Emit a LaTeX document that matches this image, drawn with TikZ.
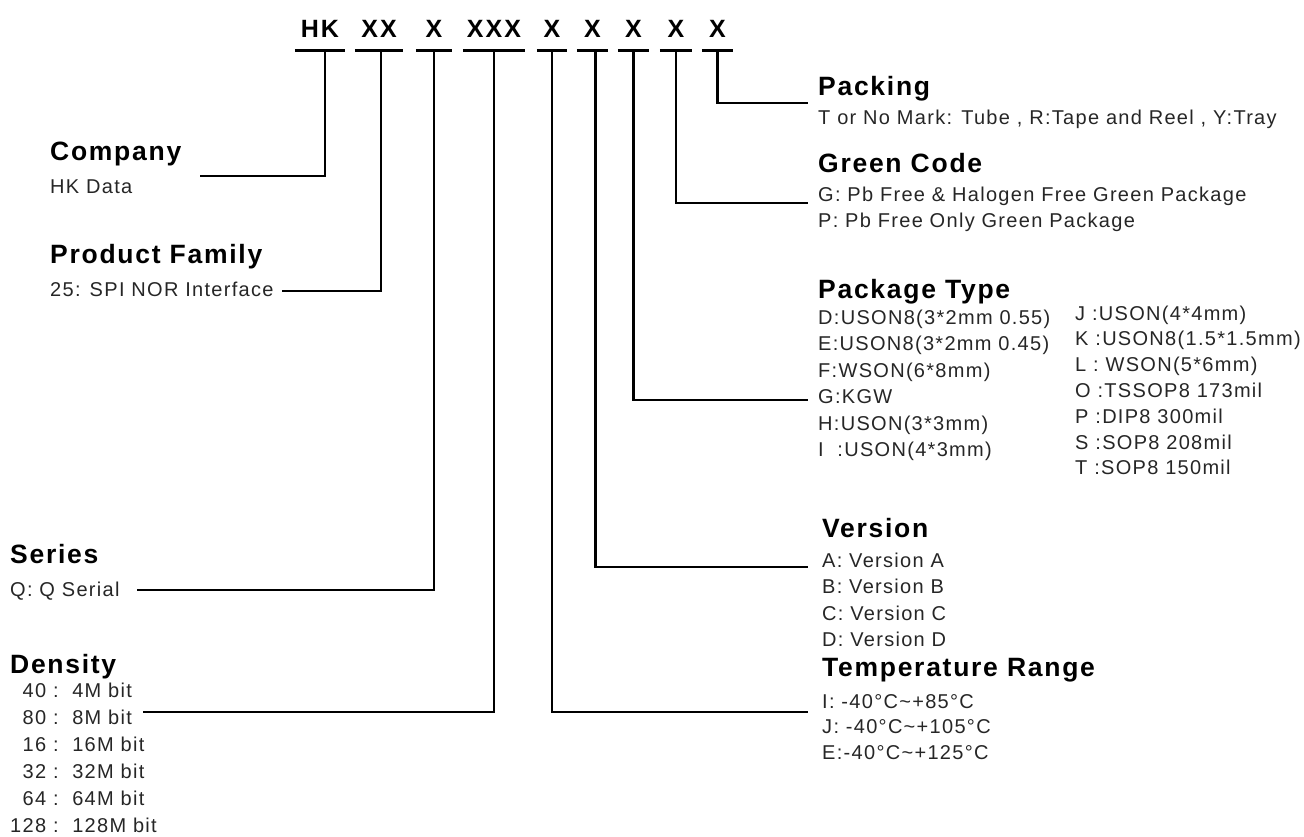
\documentclass[tikz,border=0pt]{standalone}
\usepackage{fontspec}
\setmainfont{Liberation Sans}
\newfontfamily\spfont[LetterSpace=6.5]{Liberation Sans}
\newfontfamily\codefont[LetterSpace=8]{Liberation Sans}
\begin{document}
\begin{tikzpicture}[x=1pt,y=-1pt,
  head/.style={anchor=base west, inner sep=0pt, text=black, font=\spfont\bfseries\fontsize{26.5}{30}\selectfont},
  body/.style={anchor=base west, inner sep=0pt, text=black!85, font=\spfont\fontsize{20}{26.5}\selectfont},
  code/.style={anchor=south, inner sep=0pt, text depth=12pt, font=\codefont\bfseries\fontsize{25}{28}\selectfont},
  uline/.style={line width=3pt},
  conn/.style={line width=2.8pt},
]
\useasboundingbox (0,0) rectangle (1304,836);
% code characters
\node[code, minimum width=50pt] (hk)  at (320,50)   {HK};
\node[code, minimum width=48pt] (fam) at (379,50)   {XX};
\node[code, minimum width=36pt] (ser) at (434,50)   {X};
\node[code, minimum width=62pt] (den) at (494,50)   {XXX};
\node[code, minimum width=30pt] (tmp) at (552,50)   {X};
\node[code, minimum width=31pt] (ver) at (592.5,50) {X};
\node[code, minimum width=31pt] (pkg) at (633.5,50) {X};
\node[code, minimum width=32pt] (grn) at (676,50)   {X};
\node[code, minimum width=31pt] (pck) at (717.5,50) {X};
\foreach \n in {hk,fam,ser,den,tmp,ver,pkg,grn,pck}
  \draw[uline] (\n.south west) -- (\n.south east);

% right side
\node[head] (packingH) at (818,95) {Packing};
\node[body] (packingB) at (818,124) {T or No Mark: Tube , R:Tape and Reel , Y:Tray};
\node[head] (greenH) at (818,172) {Green Code};
\node[body] (greenB) at (818,201) {\begin{tabular}[t]{@{}l@{}}G: Pb Free \& Halogen Free Green Package\\ P: Pb Free Only Green Package\end{tabular}};
\node[head] (pkgH) at (818,298) {Package Type};
\node[body] (pkgB) at (818,324) {\begin{tabular}[t]{@{}l@{}}D:USON8(3*2mm 0.55)\\ E:USON8(3*2mm 0.45)\\ F:WSON(6*8mm)\\ G:KGW\\ H:USON(3*3mm)\\ I\ \ :USON(4*3mm)\end{tabular}};
\node[body, font=\spfont\fontsize{20}{25.8}\selectfont] (pkgB2) at (1075,320) {\begin{tabular}[t]{@{}l@{}}J :USON(4*4mm)\\ K :USON8(1.5*1.5mm)\\ L : WSON(5*6mm)\\ O :TSSOP8 173mil\\ P :DIP8 300mil\\ S :SOP8 208mil\\ T :SOP8 150mil\end{tabular}};
\node[head] (verH) at (822,537) {Version};
\node[body] (verB) at (822,567) {\begin{tabular}[t]{@{}l@{}}A: Version A\\ B: Version B\\ C: Version C\\ D: Version D\end{tabular}};
\node[head] (tmpH) at (822,676) {Temperature Range};
\node[body, font=\spfont\fontsize{20}{25.5}\selectfont] (tmpB) at (822,708) {\begin{tabular}[t]{@{}l@{}}I: -40°C\textasciitilde+85°C\\ J: -40°C\textasciitilde+105°C\\ E:-40°C\textasciitilde+125°C\end{tabular}};

% left side
\node[head] (compH) at (50,160) {Company};
\node[body] (compB) at (50,193) {HK Data};
\node[head] (famH) at (50,263) {Product Family};
\node[body] (famB) at (50,296) {25: SPI NOR Interface};
\node[head] (serH) at (10,563) {Series};
\node[body] (serB) at (10,596) {Q: Q Serial};
\node[head] (denH) at (10,673) {Density};
\node[body, font=\spfont\fontsize{20}{27}\selectfont] (denB) at (10,697) {\begin{tabular}[t]{@{}r@{\ :\ \ }l@{}}40 & 4M bit\\ 80 & 8M bit\\ 16 & 16M bit\\ 32 & 32M bit\\ 64 & 64M bit\\ 128 & 128M bit\end{tabular}};

% connector ends
\coordinate (compE) at (200,176);
\coordinate (famE) at (282,291);
\coordinate (serE) at (137,590);
\coordinate (denE) at (143,712);
\coordinate (tmpE) at (808,712);
\coordinate (verE) at (808,567);
\coordinate (pkgE) at (808,400);
\coordinate (grnE) at (808,203);
\coordinate (pckE) at (808,103);

\draw[conn] ([xshift=5pt]hk.south) |- (compE);
\draw[conn] ([xshift=2pt]fam.south) |- (famE);
\draw[conn] (ser.south) |- (serE);
\draw[conn] (den.south) |- (denE);
\draw[conn] (tmp.south) |- (tmpE);
\draw[conn] ([xshift=3pt]ver.south) |- (verE);
\draw[conn] (pkg.south) |- (pkgE);
\draw[conn] (grn.south) |- (grnE);
\draw[conn] (pck.south) |- (pckE);
\end{tikzpicture}
\end{document}
